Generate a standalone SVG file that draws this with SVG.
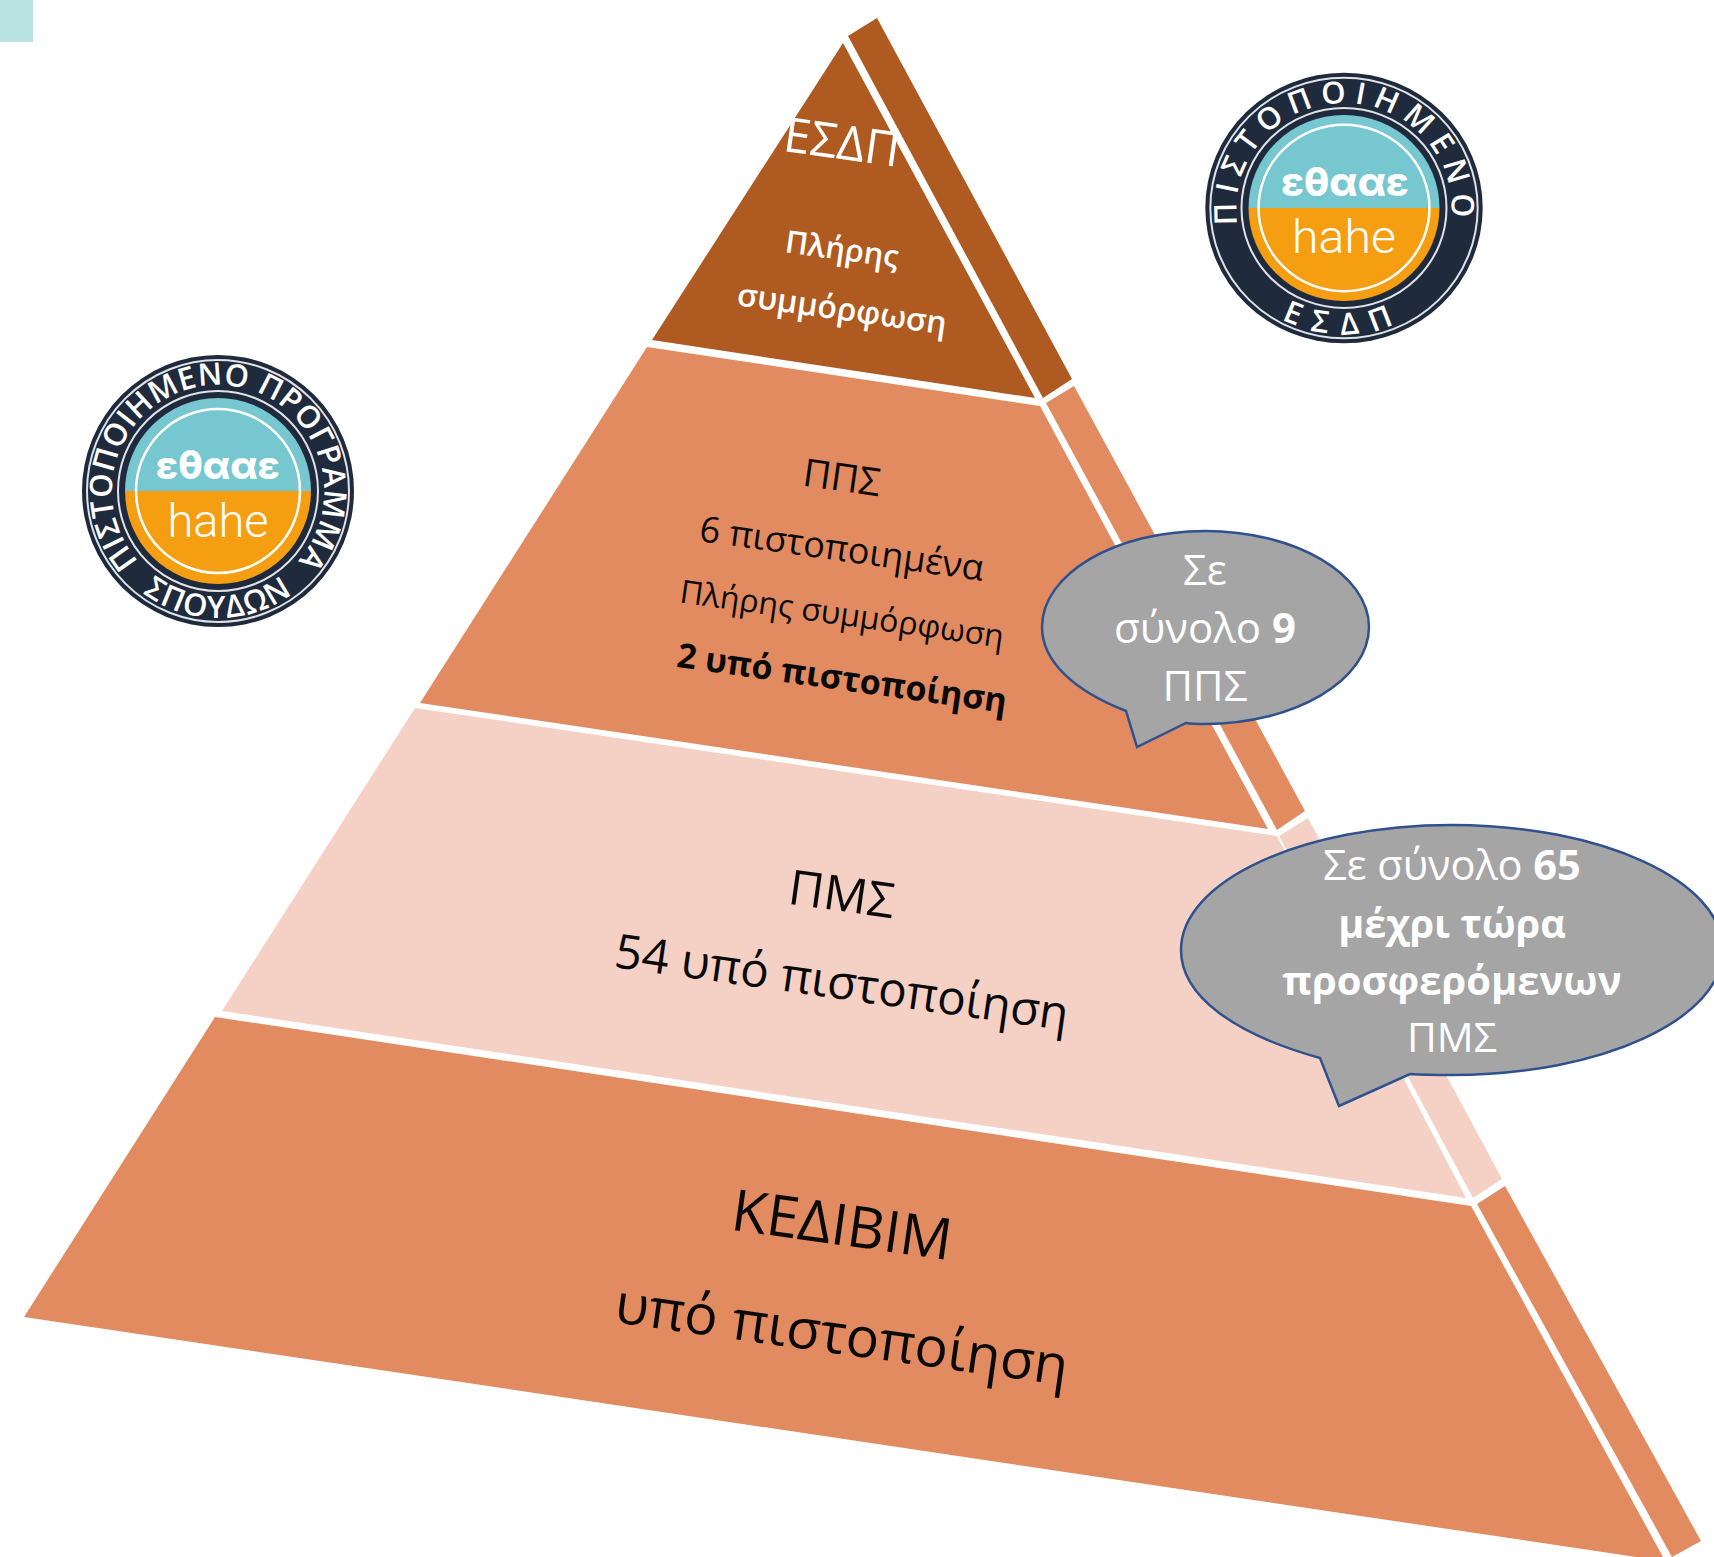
<svg xmlns="http://www.w3.org/2000/svg" width="1714" height="1557" viewBox="0 0 1714 1557">
<style>
text{font-family:"Open Sans","Noto Sans","Liberation Sans",sans-serif;text-anchor:middle}
.dk{fill:#AE5A21}.md{fill:#E28B60}.lt{fill:#F5D1C5}
.bub{fill:#A5A5A5;stroke:#2F528F;stroke-width:2.5;stroke-linejoin:miter}
.w{fill:#fff}.k{fill:#0a0a0a}.b{font-weight:700}.sb{font-weight:600}.l{font-weight:300}
.navy{fill:#1F2A3C}.ring{fill:none;stroke:#dfe3e8;stroke-width:2}.wr{fill:none;stroke:#fff;stroke-width:2.5}
.teal{fill:#76C7D0}.or{fill:#F59E12}
.ct{font-family:"Inter","Liberation Sans",sans-serif;fill:#fff;font-weight:800}
.ch{font-family:"Roboto","Liberation Sans",sans-serif;fill:#fff;font-weight:300}
.lg{font-family:"Open Sans",sans-serif;font-size:31px;font-weight:600;fill:#fff}
</style>
<defs>
<path id="tr" d="M1343 315A107 107 0 1 1 1343 101A107 107 0 1 1 1343 315"/>
<path id="br" d="M1343 79A129 129 0 1 0 1343 337A129 129 0 1 0 1343 79"/>
<path id="tl" d="M218 597A106 106 0 1 1 218 385A106 106 0 1 1 218 597"/>
<path id="bl" d="M218 364A127 127 0 1 0 218 618A127 127 0 1 0 218 364"/>
</defs>
<rect id="swatch" x="0" y="0" width="33" height="42" fill="#B9E2E2"/>

<g id="level-esdp">
<polygon class="dk" points="843,43 652,340 1035,398"/>
<polygon class="dk" points="848,36 877,18 1072,379 1043,398"/>
<text class="w" font-size="48" transform="translate(842,142) rotate(8)" y="17">ΕΣΔΠ</text>
<text class="w sb" font-size="31" transform="translate(842,249) rotate(8)" y="11">Πλήρης</text>
<text class="w sb" font-size="32" transform="translate(842,309) rotate(8)" y="11">συμμόρφωση</text>
</g>

<g id="level-pps">
<polygon class="md" points="647,347 1040,406 1268,829 420,703"/>
<polygon class="md" points="1046,403 1074,386 1305,811 1277,830"/>
<text class="k" font-size="38.5" transform="translate(842,477) rotate(8)" y="14">ΠΠΣ</text>
<text class="k" font-size="36" transform="translate(842,548) rotate(8)" y="13">6 πιστοποιημένα</text>
<text class="k" font-size="32" transform="translate(842,614) rotate(8)" y="11">Πλήρης συμμόρφωση</text>
<text class="k b" font-size="34" transform="translate(842,678) rotate(8)" y="12">2 υπό πιστοποίηση</text>
</g>

<g id="level-pms">
<polygon class="lt" points="415,708 1277,836 1466,1198 222,1011"/>
<polygon class="lt" points="1279,836 1308,818 1502,1179 1473,1198"/>
<text class="k" font-size="48.5" transform="translate(842,893) rotate(8)" y="18">ΠΜΣ</text>
<text class="k" font-size="47.5" transform="translate(842,982) rotate(8)" y="17">54 υπό πιστοποίηση</text>
</g>

<g id="level-kedivim">
<polygon class="md" points="215,1017 1471,1206 1663,1557 1663,1561 24,1317"/>
<polygon class="md" points="1477,1204 1505,1186 1701,1541 1672,1557"/>
<text class="k" font-size="57.5" transform="translate(842,1225) rotate(8)" y="20">ΚΕΔΙΒΙΜ</text>
<text class="k" font-size="55.5" transform="translate(842,1334) rotate(8)" y="20">υπό πιστοποίηση</text>
</g>

<g id="callout-pps">
<path class="bub" d="M1126 711C1075 691 1042 662 1042 627C1042 574 1115 531 1205 531C1295 531 1369 574 1369 627C1369 680 1295 724 1205 724C1198 724 1192 724 1186 723L1137 747Z"/>
<text class="w" font-size="42" x="1205" y="585">Σε</text>
<text class="w" font-size="42" x="1205" y="643">σύνολο <tspan class="b">9</tspan></text>
<text class="w" font-size="42" x="1205" y="701">ΠΠΣ</text>
</g>

<g id="callout-pms">
<path class="bub" d="M1320 1058C1234 1034 1181 996 1181 950C1181 881 1302 825 1452 825C1602 825 1723 881 1723 950C1723 1019 1602 1075 1452 1075C1438 1075 1424 1075 1410 1074L1339 1106Z"/>
<text class="w" font-size="41.5" x="1452" y="880">Σε σύνολο <tspan class="b">65</tspan></text>
<text class="w b" font-size="39.5" x="1452" y="938">μέχρι τώρα</text>
<text class="w b" font-size="40" x="1452" y="995">προσφερόμενων</text>
<text class="w" font-size="41" x="1452" y="1052">ΠΜΣ</text>
</g>

<g id="logo-esdp" transform="translate(1344 208) scale(1.005 .98) translate(-1343 -208)">
<circle class="navy" cx="1343" cy="208" r="138"/>
<circle class="ring" cx="1343" cy="208" r="133"/>
<circle class="ring" cx="1343" cy="208" r="102"/>
<path class="teal" d="M1248 208A95 95 0 0 1 1438 208Z"/>
<path class="or" d="M1248 208A95 95 0 0 0 1438 208Z"/>
<circle class="wr" cx="1343" cy="208" r="85"/>
<text class="lg" letter-spacing="8"><textPath href="#tr" startOffset="50%">ΠΙΣΤΟΠΟΙΗΜΕΝΟ</textPath></text>
<text class="lg" letter-spacing="13"><textPath href="#br" startOffset="50%">ΕΣΔΠ</textPath></text>
<text class="ct" font-size="40" x="1344" y="196">εθααε</text>
<text class="ch" font-size="48" x="1343" y="254">hahe</text>
</g>

<g id="logo-ppp">
<circle class="navy" cx="218" cy="491" r="136"/>
<circle class="ring" cx="218" cy="491" r="131"/>
<circle class="ring" cx="218" cy="491" r="100"/>
<path class="teal" d="M125 491A93 93 0 0 1 311 491Z"/>
<path class="or" d="M125 491A93 93 0 0 0 311 491Z"/>
<circle class="wr" cx="218" cy="491" r="82"/>
<text class="lg" letter-spacing="0.5"><textPath href="#tl" startOffset="50%">ΠΙΣΤΟΠΟΙΗΜΕΝΟ ΠΡΟΓΡΑΜΜΑ</textPath></text>
<text class="lg" letter-spacing="1.5"><textPath href="#bl" startOffset="50%">ΣΠΟΥΔΩΝ</textPath></text>
<text class="ct" font-size="39" x="218" y="479">εθααε</text>
<text class="ch" font-size="47" x="218" y="537">hahe</text>
</g>
</svg>
